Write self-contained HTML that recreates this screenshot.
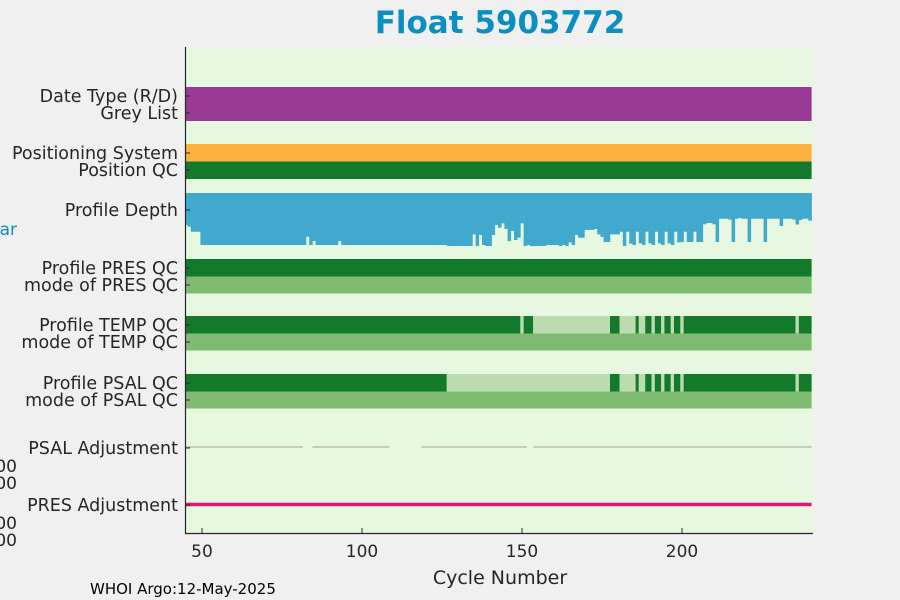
<!DOCTYPE html>
<html><head><meta charset="utf-8"><style>
body{margin:0;background:#f0f0f0;}
svg{display:block;font-family:"DejaVu Sans","Liberation Sans",sans-serif;}
</style></head><body>
<svg id="chart" width="900" height="600">
<rect width="900" height="600" fill="#f0f0f0"/>
<text x="500" y="33" text-anchor="middle" font-size="31" font-weight="bold" fill="#0a8fc0">Float 5903772</text>
<rect x="185" y="47" width="628" height="486" fill="#e6f9e0"/>
<g id="marks"></g>
<g id="axes"></g>
<text x="500" y="584" text-anchor="middle" font-size="19" fill="#262626">Cycle Number</text>
<text x="90" y="594" font-size="15" fill="#000">WHOI Argo:12-May-2025</text>
<text x="17" y="235" text-anchor="end" font-size="17" fill="#0a8fc0">dbar</text>
<text x="17" y="472" text-anchor="end" font-size="17" fill="#262626">0.000</text>
<text x="17" y="489" text-anchor="end" font-size="17" fill="#262626">0.000</text>
<text x="17" y="529" text-anchor="end" font-size="17" fill="#262626">0.000</text>
<text x="17" y="546" text-anchor="end" font-size="17" fill="#262626">0.000</text>
</svg>
<script>
const firstCycle = 45;
const lastCycle = 240;
const xTicks = [50, 100, 150, 200];
const depthValues = [1230,1295,1490,1490,1490,
2000,2000,2000,2000,2000,2000,2000,2000,2000,2000,2000,2000,2000,2000,2000,2000,2000,2000,2000,2000,2000,2000,2000,2000,2000,2000,2000,2000,2000,2000,2000,2000,2000,
1680,2000,1850,2000,2000,2000,2000,2000,2000,2000,1850,
2000,2000,2000,2000,2000,2000,2000,2000,2000,2000,2000,2000,2000,2000,2000,2000,2000,2000,2000,2000,2000,2000,2000,2000,2000,2000,2000,2000,2000,2000,2000,2000,2000,
2040,2040,2040,2040,2040,2040,2040,2040,
1590,2040,1615,2000,2040,2040,1615,1230,1335,1165,1385,1850,1460,1810,1720,1165,2040,2000,
2040,2040,2040,2040,2040,2000,2000,2000,2000,2040,2000,2040,1900,2000,1615,1720,1720,1420,1420,1420,1385,1590,1690,1885,1885,1590,1590,1590,1490,
2040,1490,1950,2000,1490,1940,2000,1490,1940,2000,1490,1940,2000,1490,1940,2000,1490,1900,1885,1490,1885,1885,1490,1885,1885,
1205,1155,1155,1205,1885,990,990,990,1025,1885,990,960,990,990,1885,990,990,990,990,1885,990,990,990,990,1270,990,990,990,1025,1215,1040,990,990,1065];
// QC runs: [startCycle, endCycle, flag] flag 1=good, 4=bad
const tempQCRuns = [[45,149,1],[150,150,4],[151,153,1],[154,177,4],[178,180,1],[181,185,4],[186,186,1],[187,188,4],[189,190,1],[191,191,4],[192,193,1],[194,194,4],[195,196,1],[197,197,4],[198,199,1],[200,200,4],[201,235,1],[236,236,4],[237,240,1]];
const psalQCRuns = [[45,126,1],[127,177,4],[178,180,1],[181,185,4],[186,186,1],[187,188,4],[189,190,1],[191,191,4],[192,193,1],[194,194,4],[195,196,1],[197,197,4],[198,199,1],[200,200,4],[201,235,1],[236,236,4],[237,240,1]];
const presQCRuns = [[45,240,1]];
const psalAdjGaps = [[82,84],[109,110],[111,118],[152,153]];

const NS = "http://www.w3.org/2000/svg";
const X0 = 185, X1 = 813;
function xPos(c){ return 202 + (c - 50) * 3.2; }
function depthY(p){ return 193 + p * 0.026; }
const marks = document.getElementById('marks');
const axes = document.getElementById('axes');
function mk(tag, attrs, parent){
  const e = document.createElementNS(NS, tag);
  for (const k in attrs) e.setAttribute(k, attrs[k]);
  parent.appendChild(e); return e;
}
function clampX(x){ return Math.max(X0, Math.min(X1, x)); }
function band(c0, c1, y, h, fill, parent){
  const a = clampX(xPos(c0 - 0.5)), b = clampX(xPos(c1 + 0.5));
  return mk('rect', {x:a, y:y, width:b-a, height:h, fill:fill}, parent);
}
let r;
r = band(firstCycle, lastCycle, 87, 34, '#993b96', marks);


r = band(firstCycle, lastCycle, 144, 17.5, '#fdb240', marks);


r = band(firstCycle, lastCycle, 161.5, 17.5, '#137a2b', marks);


depthValues.forEach((p, i) => {
  const c = firstCycle + i;
  const a = clampX(xPos(c - 0.5)), b = clampX(xPos(c + 0.5));
  const e = mk('rect', {x:a, y:193, width:b-a+0.3, height:depthY(p)-193, fill:'#42a9ce'}, marks);
  
  
});
function qcRow(runs, y, name){
  runs.forEach(rn => {
    const e = band(rn[0], rn[1], y, 17.5, rn[2] === 1 ? '#137a2b' : '#bcdbb0', marks);
    
    
  });
}
function modeRow(y, name){
  const e = band(firstCycle, lastCycle, y, 17, '#7fbb70', marks);
  
  
}
qcRow(presQCRuns, 259, 'pres-qc-segment'); modeRow(276.5, 'pres-qc-mode-band');
qcRow(tempQCRuns, 316, 'temp-qc-segment'); modeRow(333.5, 'temp-qc-mode-band');
qcRow(psalQCRuns, 374, 'psal-qc-segment'); modeRow(391.5, 'psal-qc-mode-band');
// PSAL adjustment line with gaps
let segStart = firstCycle - 0.5;
psalAdjGaps.concat([[lastCycle + 1, lastCycle + 1]]).forEach(g => {
  const e = mk('line', {x1:clampX(xPos(segStart)), x2:clampX(xPos(g[0] - 0.5)), y1:447, y2:447, stroke:'#a8a08a', 'stroke-width':1}, marks);
  
  
  segStart = g[1] + 0.5;
});
r = mk('line', {x1:xPos(firstCycle - 0.5) < X0 ? X0 : xPos(firstCycle - 0.5), x2:clampX(xPos(lastCycle + 0.5)), y1:504.5, y2:504.5, stroke:'#e8137a', 'stroke-width':3.5}, marks);


// axes
r = mk('line', {x1:185.5, x2:185.5, y1:47, y2:533.5, stroke:'#262626', 'stroke-width':1.2}, axes);


r = mk('line', {x1:185, x2:813, y1:533.5, y2:533.5, stroke:'#262626', 'stroke-width':1.2}, axes);


xTicks.forEach(t => {
  const x = xPos(t);
  const l = mk('line', {x1:x, x2:x, y1:533, y2:528, stroke:'#262626'}, axes);
  
  
  const tx = mk('text', {x:x, y:557, 'text-anchor':'middle', 'font-size':17, fill:'#262626'}, axes);
  tx.textContent = t;
  
  
});
const yLabels = ['Date Type (R/D)','Grey List','Positioning System','Position QC','Profile Depth','Profile PRES QC','mode of PRES QC','Profile TEMP QC','mode of TEMP QC','Profile PSAL QC','mode of PSAL QC','PSAL Adjustment','PRES Adjustment'];
const yLabelPos = [96,113,153,170,210,268,285,325,342,383,400,448,505];
yLabels.forEach((s, i) => {
  const y = yLabelPos[i];
  const l = mk('line', {x1:185, x2:190, y1:y, y2:y, stroke:'#262626'}, axes);
  
  
  const tx = mk('text', {x:178, y:y + 6, 'text-anchor':'end', 'font-size':17.5, fill:'#262626'}, axes);
  tx.textContent = s;
  
  
});
</script>
</body></html>
